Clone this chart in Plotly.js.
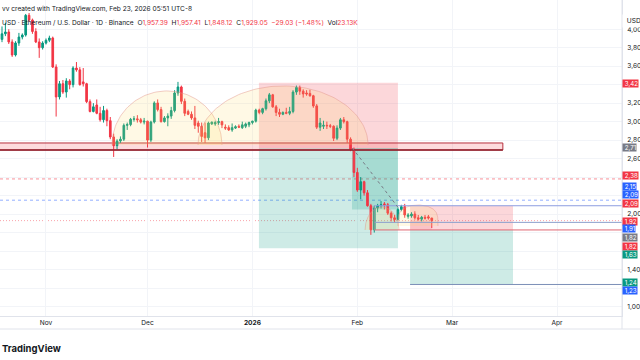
<!DOCTYPE html>
<html>
<head>
<meta charset="utf-8">
<script src="https://cdn.plot.ly/plotly-3.0.1.min.js"></script>
<style>html,body{margin:0;padding:0;background:#fff;overflow:hidden}#chart{width:640px;height:360px}</style>
</head>
<body>
<div id="chart"></div>
<script>
// ---- data: ETH/USD daily candles, 2025-10-18 .. 2026-02-23 ----
const firstDay = "2025-10-18";
const opens = [3840,3890,3950,3970,3862,3721,3851,3915,3937,4150,4100,3975,3862,3800,
 3850,3880,3905,3591,3267,3410,3320,3440,3400,3580,3560,3430,3410,3216,3110,3180,3090,3020,3120,3010,2834,2740,2790,2810,2960,2968,3025,3030,3020,2995,
 3005,2800,2996,3202,3130,3000,3040,3060,3120,3310,3375,3220,3110,3080,3040,2985,2950,2880,2825,2975,2975,2990,3000,2940,2935,2910,2930,2950,2935,2950,2965,
 2990,3005,3125,3100,3140,3225,3290,3160,3100,3080,3100,3090,3110,3320,3370,3330,3310,3305,3280,3170,2940,2950,2960,2955,2950,2820,2930,3020,3000,2810,2700,
 2450,2260,2350,2230,2090,1830,2066,2090,2110,2100,2010,1960,1940,2050,2080,1975,1980,2000,1960,1945,1965,1970,1957.39];
const highs = [3930,4030,4070,4000,3890,3870,3960,3955,4165,4175,4115,4010,3900,3870,
 3900,3930,3920,3620,3440,3450,3470,3460,3600,3645,3590,3580,3420,3240,3200,3240,3160,3170,3140,3050,2870,2810,2840,2980,2990,3040,3060,3070,3040,3040,
 3010,3010,3220,3240,3160,3060,3090,3160,3340,3430,3390,3250,3130,3110,3170,3010,2990,2990,3000,3000,3010,3040,3010,2970,2960,2980,2960,2970,3000,2990,3000,
 3010,3140,3140,3150,3250,3310,3300,3180,3140,3110,3150,3160,3340,3390,3390,3350,3340,3345,3290,3190,3040,3010,3000,2975,2960,2960,3040,3050,3010,2830,2720,
 2500,2400,2360,2260,2110,2090,2110,2140,2130,2120,2030,1990,2070,2100,2110,2010,2020,2030,1990,1980,1990,1990,1957.41];
const lows = [3800,3860,3925,3840,3700,3705,3820,3890,3920,4080,3950,3850,3690,3780,
 3835,3860,3580,3055,3240,3300,3260,3350,3370,3540,3390,3380,3200,3100,3100,3080,3000,2990,2950,2810,2618,2700,2770,2790,2910,2950,3000,2990,2980,2970,
 2720,2780,2980,3110,2990,2990,2950,3030,3100,3280,3190,3060,3070,3020,2920,2880,2780,2770,2800,2965,2955,2965,2930,2910,2900,2890,2920,2930,2920,2930,2940,
 2970,2990,3080,3080,3120,3200,3150,3060,3050,3070,3080,3070,3090,3290,3290,3260,3280,3270,3150,2920,2900,2920,2920,2930,2790,2800,2910,2980,2770,2680,2400,
 2240,2160,2200,2080,1775,1800,2020,2060,2050,1990,1920,1910,1930,2030,1960,1950,1960,1940,1930,1920,1940,1940,1848.12];
const closes = [3890,3950,3970,3862,3721,3851,3915,3937,4150,4100,3975,3862,3800,3850,
 3880,3905,3591,3267,3410,3320,3440,3400,3580,3560,3400,3410,3216,3110,3160,3090,3020,3120,3010,2834,2740,2790,2810,2960,2968,3025,3030,3020,2995,3005,
 2800,2996,3202,3130,3000,3040,3060,3120,3310,3375,3220,3090,3080,3040,2960,2950,2840,2825,2985,2995,2990,3000,2965,2930,2910,2935,2945,2940,2965,2975,2990,
 3005,3125,3100,3140,3225,3290,3160,3100,3080,3100,3090,3110,3320,3370,3330,3300,3300,3280,3170,2940,2985,2960,2955,2950,2820,2930,3020,3000,2810,2700,2450,
 2260,2350,2230,2090,1830,2066,2090,2100,2100,2010,1960,1940,2050,2080,1990,1990,2000,1960,1945,1965,1955,1957.39,1929.05];

// x axis ticks
const monthTicks = ["2025-11-01","2025-12-01","2026-01-01","2026-02-01","2026-03-01","2026-04-01"];
const monthLabels = ["Nov","Dec","<b>2026</b>","Feb","Mar","Apr"];
// y axis grid ticks and the ones whose (truncated) label is visible on the narrow scale
const priceTicks = [1000,1200,1400,1600,1800,2000,2200,2400,2600,2800,3000,3200,3400,3600,3800,4000];
const labelledTicks = [1000,1400,2000,2600,2800,3000,3200,3600,3800,4000];

// drawings (anchored in date / price)
const zonePrices = [2693, 2769];            // support box
const pos1 = {start:"2026-01-02 22:00", end:"2026-02-13 00:00", stop:3420, entry:2715, target:1630, hit:"2026-01-30 10:00", last:2050};
const pos2 = {start:"2026-02-16 14:00", end:"2026-03-19 00:00", stop:2090, entry:1828, target:1238, now:"2026-02-23 00:00", last:1929.05};
const hLines = {pinkDash:2380, blueDash:2150, lastPrice:1929.05, boxTop:2090, mid:1910, boxBottom:1828};
const arcs = [
  {t0:"2025-11-20 12:00", t1:"2025-12-23 00:00", base:2747, top:3332, p:1},
  {t0:"2025-12-15 22:00", t1:"2026-02-04 04:00", base:2747, top:3386, p:1},
  {t0:"2026-02-03 07:00", t1:"2026-02-13 07:00", base:1828, top:2078, p:1},
  {t0:"2026-02-13 00:00", t1:"2026-02-24 20:00", base:1871, top:2098, p:0.5}
];
// price-scale labels: [value, colour, displayed pixel y]
const scaleLabels = [
  [3420,"#f23645",84],
  [2715,"#787b86",148],
  [2380,"#f23645",176],
  [2150,"#2962ff",186.5],
  [2090,"#2962ff",194.5],
  [2090,"#f23645",203.5],
  [1929.05,"#f23645",221.5],
  [1910,"#2962ff",229],
  [1828,"#787b86",237.5],
  [1820,"#f23645",246.5],
  [1630,"#089981",255],
  [1240,"#089981",282.5],
  [1230,"#2962ff",291]
];

// ---- helpers ----
const toMs = s => Date.parse(s.replace(' ','T') + (s.length > 10 ? ':00Z' : 'T00:00:00Z'));
const toStr = ms => new Date(ms).toISOString().slice(0,19).replace('T',' ');
const dates = closes.map((_, i) => toStr(toMs(firstDay) + i*86400000));
const shortPrice = v => v.toLocaleString('en-US', {minimumFractionDigits:2}).slice(0,4);

const X0 = "2025-10-18 09:50", X1 = "2026-04-20 05:00";
const Y0 = 897, Y1 = 4316;
const W = 640, H = 360, M = {l:0, r:18, t:0, b:44};
const plotH = H - M.t - M.b, plotW = W - M.l - M.r;
const pyOf = v => (Y1 - v) / (Y1 - Y0) * plotH;   // pixel y from price
const paperY = py => (plotH - py) / plotH;

const FONT = "Inter, Roboto, 'Noto Sans', sans-serif";
const traces = [];
arcs.forEach(a => {
  const m0 = toMs(a.t0), m1 = toMs(a.t1), xs = [], ys = [];
  for (let i = 0; i <= 80; i++) {
    const th = Math.PI * i / 80;
    xs.push(toStr(m0 + (m1 - m0) * (1 - Math.cos(th)) / 2));
    ys.push(a.base + (a.top - a.base) * Math.pow(Math.sin(th), a.p));
  }
  traces.push({type:'scatter', mode:'lines', x:xs, y:ys, fill:'toself',
    fillcolor:'rgba(252,215,95,0.16)', line:{color:'rgba(226,150,140,0.6)', width:0.8}, hoverinfo:'skip', showlegend:false});
});
traces.push({
  type:'candlestick', x:dates, open:opens, high:highs, low:lows, close:closes,
  increasing:{line:{color:'#089981', width:1}, fillcolor:'#089981'},
  decreasing:{line:{color:'#f23645', width:1}, fillcolor:'#f23645'},
  whiskerwidth:0, showlegend:false, hoverinfo:'skip'
});

const red = 'rgba(242,54,69,0.2)', green = 'rgba(8,153,129,0.2)';
const shapes = [
  // position 1
  {type:'rect', layer:'between', xref:'x', yref:'y', x0:pos1.start, x1:pos1.end, y0:pos1.entry, y1:pos1.stop, fillcolor:red, line:{width:0}},
  {type:'rect', layer:'between', xref:'x', yref:'y', x0:pos1.start, x1:pos1.end, y0:pos1.target, y1:pos1.entry, fillcolor:green, line:{width:0}},
  {type:'rect', layer:'between', xref:'x', yref:'y', x0:pos1.hit, x1:pos1.end, y0:pos1.last, y1:pos1.entry, fillcolor:green, line:{width:0}},
  // position 2
  {type:'rect', layer:'between', xref:'x', yref:'y', x0:pos2.start, x1:pos2.end, y0:pos2.entry, y1:pos2.stop, fillcolor:red, line:{width:0}},
  {type:'rect', layer:'between', xref:'x', yref:'y', x0:pos2.start, x1:pos2.end, y0:pos2.target, y1:pos2.entry, fillcolor:green, line:{width:0}},
  {type:'rect', layer:'between', xref:'x', yref:'y', x0:pos2.start, x1:pos2.now, y0:pos2.entry, y1:pos2.last, fillcolor:'rgba(242,54,69,0.12)', line:{width:0}},
  // support zone
  {type:'rect', layer:'between', xref:'x', yref:'y', x0:"2025-10-01", x1:"2026-03-16 00:00", y0:zonePrices[0], y1:zonePrices[1], fillcolor:'rgba(242,54,69,0.18)', line:{color:'#b8303e', width:1}},
  {type:'line', layer:'above', xref:'x', yref:'y', x0:"2025-10-01", x1:"2026-03-16 00:00", y0:zonePrices[0], y1:zonePrices[0], line:{color:'#8e1f2b', width:1.5}},
  // horizontal lines
  {type:'line', layer:'between', xref:'paper', yref:'y', x0:0, x1:1, y0:hLines.pinkDash, y1:hLines.pinkDash, line:{color:'rgba(242,54,69,0.55)', width:1, dash:'3px,3px'}},
  {type:'line', layer:'between', xref:'paper', yref:'y', x0:0, x1:1, y0:hLines.blueDash, y1:hLines.blueDash, line:{color:'rgba(41,98,255,0.5)', width:1, dash:'3px,3px'}},
  {type:'line', layer:'between', xref:'paper', yref:'y', x0:0, x1:1, y0:hLines.lastPrice, y1:hLines.lastPrice, line:{color:'rgba(242,54,69,0.45)', width:1, dash:'1px,2px'}},
  {type:'line', layer:'above', xref:'x', yref:'y', x0:"2026-02-06 00:00", x1:X1, y0:hLines.boxTop, y1:hLines.boxTop, line:{color:'#8e9de0', width:1}},
  {type:'line', layer:'above', xref:'x', yref:'y', x0:"2026-02-06 00:00", x1:X1, y0:hLines.mid, y1:hLines.mid, line:{color:'#8c9fcc', width:1}},
  {type:'line', layer:'above', xref:'x', yref:'y', x0:"2026-02-06 00:00", x1:X1, y0:hLines.boxBottom, y1:hLines.boxBottom, line:{color:'#e06672', width:1}},
  {type:'line', layer:'above', xref:'x', yref:'y', x0:"2026-02-06 00:00", x1:"2026-02-06 00:00", y0:hLines.boxBottom, y1:hLines.boxTop, line:{color:'#9598a1', width:1}},
  {type:'line', layer:'above', xref:'x', yref:'y', x0:pos2.start, x1:X1, y0:pos2.target, y1:pos2.target, line:{color:'#7c8fb8', width:1}},
  // dashed path of position 1
  {type:'line', layer:'above', xref:'x', yref:'y', x0:"2026-01-30 12:00", x1:"2026-02-13 12:00", y0:pos1.entry, y1:pos1.last, line:{color:'#787b86', width:1, dash:'3px,3px'}},
  // frame: time-axis bottom line and scale separator
  {type:'line', xref:'paper', yref:'paper', x0:0, x1:W/plotW, y0:paperY(329), y1:paperY(329), line:{color:'#e0e3eb', width:1}},
  {type:'line', xref:'paper', yref:'paper', x0:1, x1:1, y0:1, y1:paperY(329), line:{color:'#e0e3eb', width:1}}
];

const annotations = scaleLabels.map(([v, c, dy]) => ({
  xref:'paper', yref:'y', x:1, y:v, xanchor:'left', yanchor:'middle', yshift: pyOf(v) - dy,
  text:'&nbsp;' + shortPrice(v), showarrow:false, bgcolor:c, borderpad:0, align:'left',
  font:{family:FONT, size:6.2, color:'#ffffff'}
}));
annotations.push(
  {xref:'paper', yref:'paper', x:1, y:paperY(21), xanchor:'left', yanchor:'middle', text:'&nbsp;USD', showarrow:false, bgcolor:'#ffffff', borderpad:2, font:{family:FONT, size:6.6, color:'#131722'}},
  {xref:'paper', yref:'paper', x:0, y:paperY(9), xanchor:'left', yanchor:'middle', showarrow:false,
   text:'vv created with TradingView.com, Feb 23, 2026 05:51 UTC-8', font:{family:FONT, size:6.6, color:'#131722'}},
  {xref:'paper', yref:'paper', x:0, y:paperY(22.7), xanchor:'left', yanchor:'middle', showarrow:false,
   text:'USD · Ethereum / U.S. Dollar · 1D · Binance&nbsp;&nbsp;O<span style="color:#f23645">1,957.39</span>&nbsp;&nbsp;H<span style="color:#f23645">1,957.41</span>&nbsp;&nbsp;L<span style="color:#f23645">1,848.12</span>&nbsp;&nbsp;C<span style="color:#f23645">1,929.05</span>&nbsp;&nbsp;<span style="color:#f23645">−29.03 (−1.48%)</span>&nbsp;&nbsp;Vol<span style="color:#f23645">23.13K</span>',
   font:{family:FONT, size:6.6, color:'#131722'}},
  {xref:'paper', yref:'paper', x:0, y:paperY(349), xanchor:'left', yanchor:'middle', showarrow:false,
   text:'<b>TradingView</b>', font:{family:FONT, size:9.5, color:'#131722'}}
);

const layout = {
  width:W, height:H, margin:M, paper_bgcolor:'#ffffff', plot_bgcolor:'#ffffff',
  showlegend:false, dragmode:false,
  xaxis:{type:'date', range:[X0, X1], rangeslider:{visible:false}, tickmode:'array', tickvals:monthTicks, ticktext:monthLabels,
    showgrid:true, gridcolor:'#f2f4f8', gridwidth:1, zeroline:false, showline:true, linecolor:'#e0e3eb', ticks:'',
    tickfont:{family:FONT, size:6.6, color:'#131722'}},
  yaxis:{side:'right', range:[Y0, Y1], tickmode:'array', tickvals:priceTicks,
    ticktext:priceTicks.map(v => labelledTicks.includes(v) ? shortPrice(v) : ''),
    showgrid:true, gridcolor:'#f2f4f8', gridwidth:1, zeroline:false, showline:true, linecolor:'#e0e3eb', ticks:'',
    ticklabelstandoff:3, tickfont:{family:FONT, size:6.6, color:'#131722'}},
  shapes, annotations
};
Plotly.newPlot('chart', traces, layout, {displayModeBar:false, staticPlot:true});
</script>
</body>
</html>
